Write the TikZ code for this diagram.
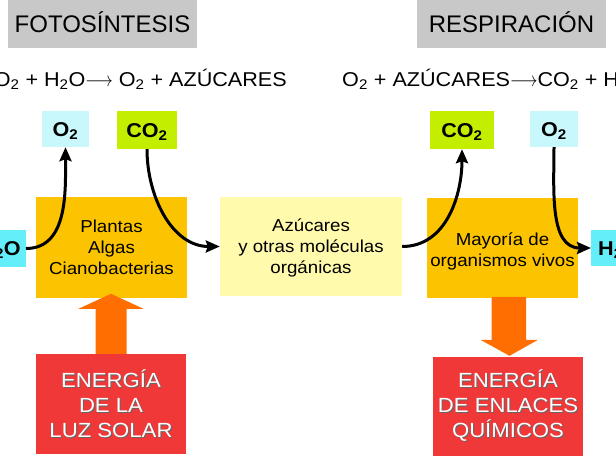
\documentclass[tikz,border=0pt]{standalone}
\usepackage{graphicx}
\usepackage{fontspec}
\setmainfont[FakeStretch=1.08]{Liberation Sans}
\newfontfamily\headfont{Liberation Sans}
\usetikzlibrary{arrows.meta,calc}
\definecolor{gold}{RGB}{252,196,0}
\definecolor{paleY}{RGB}{255,250,172}
\definecolor{lcyan}{RGB}{200,248,252}
\definecolor{cyanH}{RGB}{100,238,250}
\definecolor{lime}{RGB}{196,238,0}
\definecolor{orangeA}{RGB}{255,110,0}
\definecolor{redE}{RGB}{240,56,56}
\definecolor{grayH}{RGB}{200,200,200}
\newcommand\shl[1]{\rlap{\kern1pt\raisebox{-1pt}{\textcolor{black!60}{#1}}}\textcolor{white}{#1}}
\newcommand\yields{\raisebox{0.5pt}{\scalebox{0.82}[1]{$\longrightarrow$}}}
\begin{document}
\begin{tikzpicture}[x=1pt,y=1pt,
  box/.style={rectangle, inner sep=0pt, draw=none},
  heading/.style={box, fill=grayH, minimum width=189, minimum height=48,
     font=\headfont\fontsize{24}{28}\selectfont, text height=17.2pt, text depth=0pt},
  eqn/.style={inner sep=0pt, font=\fontsize{20}{24}\selectfont},
  chem/.style={box, font=\fontsize{20}{24}\selectfont\bfseries, text height=14.3pt, text depth=0pt},
  orgbox/.style={box, align=center, font=\fontsize{17.3}{21}\selectfont},
  enbox/.style={box, fill=redE, align=center, minimum width=150, font=\fontsize{20.5}{25}\selectfont},
  flow/.style={line width=3pt, -{Stealth[length=14pt,width=12pt,inset=2pt]}},
  block/.style={fill=orangeA}
]
\useasboundingbox (0,0) rectangle (616,-461);
\clip (0,0) rectangle (616,-461);

% headings
\node[heading] (foto) at (102.5,-24) {FOTOSÍNTESIS};
\node[heading] (resp) at (511.5,-24) {RESPIRACIÓN};

% equations
\node[eqn, anchor=base east] (eqL) at (287,-86.5)
  {CO\textsubscript{2} + H\textsubscript{2}O\yields{} O\textsubscript{2} + AZÚCARES};
\node[eqn, anchor=base west] (eqR) at (342,-86.5)
  {O\textsubscript{2} + AZÚCARES\yields{}CO\textsubscript{2} + H\textsubscript{2}O};

% small chemical boxes
\node[chem, fill=lcyan, minimum width=47, minimum height=36] (o2L) at (65.5,-129) {O\textsubscript{2}};
\node[chem, fill=lime, minimum width=60, minimum height=38] (co2L) at (147,-130) {CO\textsubscript{2}};
\node[chem, fill=lime, minimum width=64, minimum height=38] (co2R) at (462,-130) {CO\textsubscript{2}};
\node[chem, fill=lcyan, minimum width=48, minimum height=36] (o2R) at (554,-129) {O\textsubscript{2}};
\node[chem, fill=cyanH, minimum height=37, inner xsep=5pt, anchor=east] (h2oL) at (26,-248.5) {H\textsubscript{2}O};
\node[chem, fill=cyanH, minimum height=36, inner xsep=7pt, anchor=west] (h2oR) at (591,-248) {H\textsubscript{2}O};

% organism / molecule boxes
\node[orgbox, fill=gold, minimum width=151, minimum height=101] (plantas) at (111.5,-247.5)
  {Plantas\\Algas\\Cianobacterias};
\node[orgbox, fill=paleY, minimum width=182, minimum height=99] (azucar) at (311,-246.5)
  {\rule{0pt}{16pt}Azúcares\\y otras moléculas\\orgánicas};
\node[orgbox, fill=gold, minimum width=151, minimum height=100] (mayoria) at (502.5,-248)
  {\rule{0pt}{20pt}Mayoría de\\organismos vivos};

% energy boxes
\node[enbox, minimum height=100] (redL) at (111,-404)
  {\shl{ENERGÍA}\\\shl{DE LA}\\\shl{LUZ SOLAR}};
\node[enbox, minimum height=99] (redR) at (508,-406.5)
  {\shl{ENERGÍA}\\\shl{DE ENLACES}\\\shl{QUÍMICOS}};

% block arrows
\fill[block] ($(redL.north)+(-15.5,0)$) -- ($(redL.north)+(-15.5,45)$) -- ($(redL.north)+(-32.5,45)$)
  -- ($(redL.north)+(0,60)$) -- ($(redL.north)+(32.5,45)$) -- ($(redL.north)+(15.5,45)$)
  -- ($(redL.north)+(15.5,0)$) -- cycle;
\fill[block] ($(redR.north)+(-16.5,60)$) -- ($(redR.north)+(-16.5,17)$) -- ($(redR.north)+(-27.5,17)$)
  -- ($(redR.north)+(1.5,1)$) -- ($(redR.north)+(30,17)$) -- ($(redR.north)+(18,17)$)
  -- ($(redR.north)+(18,60)$) -- cycle;

% flow arrows
\draw[flow] (h2oL.east) to[out=0, in=-90] (o2L.south);
\draw[flow] (co2L.south) to[out=-90, in=180] (azucar.west);
\draw[flow] (azucar.east) to[out=0, in=-90] (co2R.south);
\draw[flow] (o2R.south) to[out=-90, in=180] (h2oR.west);
\end{tikzpicture}
\end{document}
